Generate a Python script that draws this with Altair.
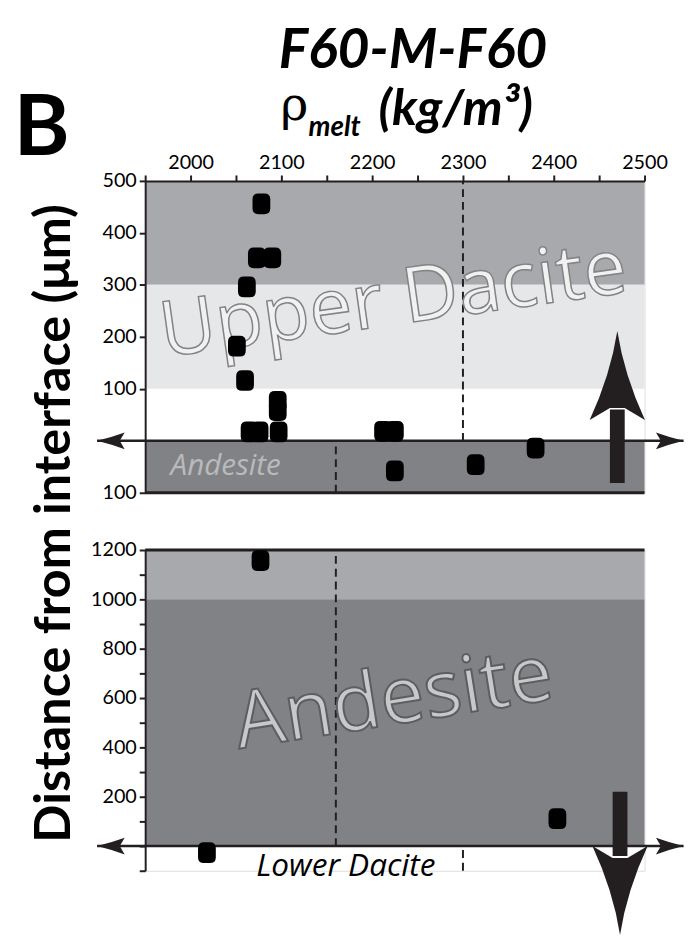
import altair as alt
import pandas as pd

# ---------------- data ----------------
upper_density = [2078, 2073, 2090, 2062, 2051, 2060, 2096, 2096, 2065, 2076, 2097, 2212, 2225, 2225, 2314, 2380]
upper_distance = [456, 352, 352, 296, 182, 116, 76, 58, 17, 17, 17, 18, 18, -58, -46, -14]
lower_density = [2077, 2018, 2404]
lower_distance = [1157, -27, 111]

x_domain = [1950, 2500]
upper_y_domain = [-100, 500]
lower_y_domain = [-100, 1200]
x_tick_values = list(range(1950, 2501, 50))
upper_y_ticks = list(range(-100, 501, 100))
lower_y_ticks = list(range(-100, 1201, 100))

upper_band_from = [300, 100, -100]
upper_band_to = [500, 300, 0]
upper_band_name = ["dacite_far", "dacite_mid", "andesite"]
lower_band_from = [1000, 0]
lower_band_to = [1200, 1000]
lower_band_name = ["dacite_far", "andesite"]
band_names = ["dacite_far", "dacite_mid", "andesite"]
band_colors = ["#a7a9ac", "#e6e7e8", "#808285"]

# reference densities (dashed lines): x, from, to
upper_dash_x = [2300, 2160]
upper_dash_from = [0, -100]
upper_dash_to = [500, 0]
lower_dash_x = [2160, 2300]
lower_dash_from = [0, -100]
lower_dash_to = [1200, 0]

interface_from = 1897
interface_to = 2543

up_arrow_x = 2470
up_arrow_base = -81
up_arrow_neck = 60
up_arrow_tip = 211
down_arrow_x = 2473
down_arrow_base = 220
down_arrow_neck = -40
down_arrow_tip = -360

# ---------------- styles ----------------
INK = "#231f20"
FONT = "Lato"
FONT2 = "Open Sans"
POINT_PATH = ("M-0.9,-0.45 Q-0.9,-1.05 -0.3,-1.05 L0.3,-1.05 Q0.9,-1.05 0.9,-0.45 "
              "L0.9,0.45 Q0.9,1.05 0.3,1.05 L-0.3,1.05 Q-0.9,1.05 -0.9,0.45 Z")
HEAD_LEFT = "M0,0 Q1.4,-0.35 2.8,-0.85 L2.3,0 L2.8,0.85 Q1.4,0.35 0,0 Z"
HEAD_RIGHT = "M0,0 Q-1.4,-0.35 -2.8,-0.85 L-2.3,0 L-2.8,0.85 Q-1.4,0.35 0,0 Z"
HEAD_UP = "M0,0 Q0.7,4.5 2.8,9 L0.75,7.8 L-0.75,7.8 L-2.8,9 Q-0.7,4.5 0,0 Z"
HEAD_DOWN = "M0,0 Q0.7,-4.5 2.8,-9 L0.75,-7.8 L-0.75,-7.8 L-2.8,-9 Q-0.7,-4.5 0,0 Z"

W = 506
H_UP = 316
H_LO = 325

xscale = alt.Scale(domain=x_domain, nice=False, zero=False)
yscale_up = alt.Scale(domain=upper_y_domain, nice=False, zero=False)
yscale_lo = alt.Scale(domain=lower_y_domain, nice=False, zero=False)

axis_common = dict(domainColor=INK, tickColor=INK, domainWidth=2, tickWidth=2, tickSize=6,
                   labelFont=FONT, labelFontSize=20, labelColor="black", grid=False,
                   title=None, zindex=1, labelOverlap=False, labelFlush=False, format="d")
x_axis_top = alt.Axis(orient="top", values=x_tick_values,
                      labelExpr="datum.value % 100 == 0 ? datum.label : ''",
                      labelPadding=3, **axis_common)
y_axis_up = alt.Axis(values=upper_y_ticks,
                     labelExpr="datum.value == 0 ? '' : format(abs(datum.value), 'd')",
                     labelPadding=3, **axis_common)
y_axis_lo = alt.Axis(values=lower_y_ticks,
                     labelExpr="datum.value > 0 && datum.value % 200 == 0 ? datum.label : ''",
                     labelPadding=3, **axis_common)


def X(ax, field="x"):
    return alt.X(f"{field}:Q", scale=xscale, axis=ax)


def Y(sc, ax, field="y"):
    return alt.Y(f"{field}:Q", scale=sc, axis=ax)


def panel(sc, xax, yax, band_from, band_to, band_name, dash_x, dash_from, dash_to,
          frame_y, px, py, arrow_x, arrow_base, arrow_neck, arrow_tip, head_path, texts):
    bands = pd.DataFrame({"x": x_domain[0], "x2": x_domain[1], "y": band_from, "y2": band_to, "band": band_name})
    layers = []
    layers.append(alt.Chart(bands).mark_rect(strokeWidth=0).encode(
        x=X(xax), x2="x2:Q", y=Y(sc, yax), y2="y2:Q",
        color=alt.Color("band:N", scale=alt.Scale(domain=band_names, range=band_colors), legend=None)))
    dashes = pd.DataFrame({"x": dash_x, "y": dash_from, "y2": dash_to})
    layers.append(alt.Chart(dashes).mark_rule(color=INK, strokeWidth=2, strokeDash=[8, 5]).encode(
        x=X(xax), y=Y(sc, yax), y2="y2:Q"))
    frame = pd.DataFrame({"x": [x_domain[0]], "x2": [x_domain[1]], "y": [frame_y]})
    layers.append(alt.Chart(frame).mark_rule(color=INK, strokeWidth=3).encode(
        x=X(xax), x2="x2:Q", y=Y(sc, yax)))
    iface = pd.DataFrame({"x": [interface_from], "x2": [interface_to], "y": [0]})
    layers.append(alt.Chart(iface).mark_rule(color=INK, strokeWidth=2.5).encode(
        x=X(xax), x2="x2:Q", y=Y(sc, yax)))
    for path, xv in ((HEAD_LEFT, interface_from), (HEAD_RIGHT, interface_to)):
        layers.append(alt.Chart(pd.DataFrame({"x": [xv], "y": [0]})).mark_point(
            shape=path, size=400, filled=True, fill=INK, opacity=1, strokeWidth=0).encode(
            x=X(xax), y=Y(sc, yax)))
    for t in texts:
        df = pd.DataFrame({"x": [t["x"]], "y": [t["y"]], "label": [t["text"]]})
        props = {k: v for k, v in t.items() if k not in ("x", "y", "text")}
        layers.append(alt.Chart(df).mark_text(**props).encode(
            x=X(xax), y=Y(sc, yax), text="label:N"))
    pts = pd.DataFrame({"x": px, "y": py})
    layers.append(alt.Chart(pts).mark_point(shape=POINT_PATH, size=400, filled=True, fill="black",
                                            opacity=1, strokeWidth=0).encode(x=X(xax), y=Y(sc, yax)))
    shaft = pd.DataFrame({"x": [arrow_x], "y": [arrow_base], "y2": [arrow_neck]})
    layers.append(alt.Chart(shaft).mark_rule(color=INK, strokeWidth=15).encode(
        x=X(xax), y=Y(sc, yax), y2="y2:Q"))
    head = pd.DataFrame({"x": [arrow_x], "y": [arrow_tip]})
    layers.append(alt.Chart(head).mark_point(shape=head_path, size=400, filled=True, fill=INK,
                                             opacity=1, strokeWidth=0).encode(x=X(xax), y=Y(sc, yax)))
    return alt.layer(*layers)


upper_texts = [
    dict(text="Upper Dacite", x=2227, y=224, font=FONT2, fontSize=78, fill="#f1f1f2",
         stroke="#838385", strokeWidth=1.5, angle=352, align="center", baseline="alphabetic"),
    dict(text="Andesite", x=1978, y=-66, font=FONT2, fontSize=30, fontStyle="italic", fill="#b9babc",
         align="left", baseline="alphabetic"),
    dict(text="F60-M-F60", x=2245, y=717, font=FONT, fontSize=56, fontWeight="bold", fontStyle="italic",
         fill="black", align="center", baseline="alphabetic"),
    dict(text="ρ", x=2099, y=617, font="DejaVu Serif", fontSize=48, fill="black", align="left",
         baseline="alphabetic"),
    dict(text="melt", x=2130, y=586, font=FONT, fontSize=28, fontWeight="bold", fontStyle="italic",
         fill="black", align="left", baseline="alphabetic"),
    dict(text="(kg/m³)", x=2207, y=607, font=FONT, fontSize=51, fontWeight="bold", fontStyle="italic",
         fill="black", align="left", baseline="alphabetic"),
    dict(text="B", x=1836, y=549, font=FONT, fontSize=86, fontWeight="bold", fill="black",
         align="center", baseline="alphabetic"),
    dict(text="Distance from interface (μm)", x=1867, y=-159, font=FONT, fontSize=51, fontWeight="bold",
         fill="black", angle=270, align="center", baseline="alphabetic"),
]
lower_texts = [
    dict(text="Andesite", x=2228, y=496, font=FONT2, fontSize=80, fill="#c7c8ca",
         stroke="#5d5d5f", strokeWidth=2, angle=351, align="center", baseline="alphabetic"),
    dict(text="Lower Dacite", x=2171, y=-122, font=FONT2, fontSize=32, fontStyle="italic", fill="black",
         align="center", baseline="alphabetic"),
]

upper = panel(yscale_up, x_axis_top, y_axis_up, upper_band_from, upper_band_to, upper_band_name,
              upper_dash_x, upper_dash_from, upper_dash_to, -100, upper_density, upper_distance,
              up_arrow_x, up_arrow_base, up_arrow_neck, up_arrow_tip, HEAD_UP, upper_texts
              ).properties(width=W, height=H_UP)
lower = panel(yscale_lo, None, y_axis_lo, lower_band_from, lower_band_to, lower_band_name,
              lower_dash_x, lower_dash_from, lower_dash_to, 1200, lower_density, lower_distance,
              down_arrow_x, down_arrow_base, down_arrow_neck, down_arrow_tip, HEAD_DOWN, lower_texts
              ).properties(width=W, height=H_LO)

chart = alt.VConcatChart(vconcat=[upper, lower], spacing=58, bounds="flush").properties(
    padding={"left": 5, "top": 9, "right": 0, "bottom": 0}
).configure_view(stroke=None).configure(background="white")

chart.save("out.html", embed_options={"renderer": "svg", "actions": False})
